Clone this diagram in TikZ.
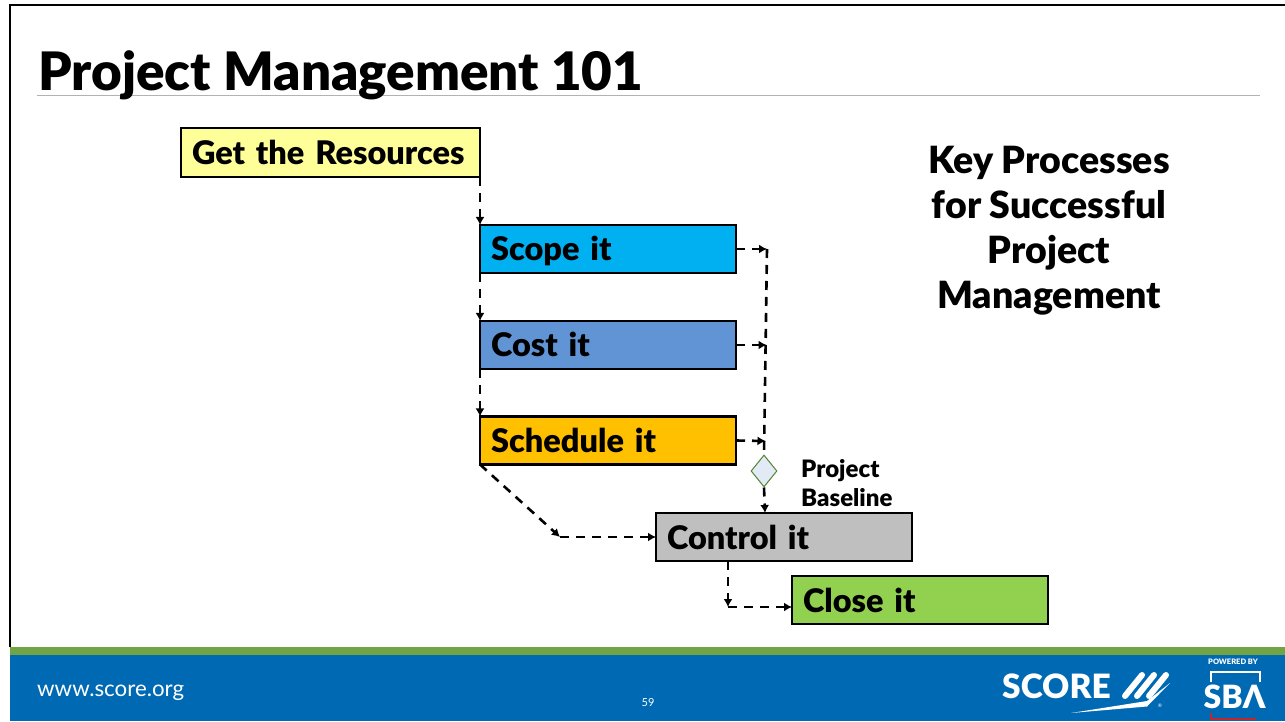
\documentclass[tikz,border=0pt]{standalone}
\usepackage{fontspec}
\setmainfont{Lato}[BoldFont={Lato Black}]
\usetikzlibrary{positioning,arrows.meta,shapes.geometric}

\tikzset{
    taskbox/.style={draw=black, line width=2.2pt, outer sep=0pt, minimum height=48pt, minimum width=256pt, text width=234pt,
        text height=28pt, text depth=4pt, inner xsep=11pt, inner ysep=0pt, align=left, text=black,
        font=\fontsize{32.5}{37}\selectfont\bfseries},
    flowline/.style={line width=2.6pt, dash pattern=on 9pt off 7pt, -{Latex[length=8pt,width=9pt]}},
    plainline/.style={line width=2.6pt, dash pattern=on 9pt off 7pt},
}
\definecolor{resourcefill}{HTML}{FFFF99}
\definecolor{scopefill}{HTML}{00B0F0}
\definecolor{costfill}{HTML}{6094D4}
\definecolor{schedulefill}{HTML}{FFC000}
\definecolor{controlfill}{HTML}{BFBFBF}
\definecolor{closefill}{HTML}{92D050}
\definecolor{footerblue}{HTML}{0069B4}
\definecolor{footergreen}{HTML}{70A444}
\definecolor{diamondline}{HTML}{548235}
\definecolor{diamondfill}{HTML}{E2EBF5}
\definecolor{sbared}{HTML}{C0272D}

\begin{document}
\begin{tikzpicture}[x=1pt,y=1pt]
        \newcommand{\slidewidth}{1285}
        \newcommand{\slideheight}{721}
        \useasboundingbox (0,0) rectangle (\slidewidth, \slideheight);
        \fill[white] (0,0) rectangle (\slidewidth, \slideheight);
        % slide frame
        \draw[line width=2.5pt] (10,74) -- (10,716) -- (\slidewidth,716);
        \draw[line width=1pt, black!30] (37,625.5) -- (1260,625.5);
        \node[anchor=base west, inner sep=0pt, font=\fontsize{53}{60}\selectfont\bfseries] (title) at (38,630.5) {Project Management 101};

        % footer
        \fill[footerblue] (10,0) rectangle (\slidewidth,66);
        \fill[footergreen] (10,66) rectangle (\slidewidth,74);
        \node[anchor=base west, inner sep=0pt, text=white, font=\fontsize{22.3}{25}\selectfont] (website) at (37,25) {www.score.org};
        \node[inner sep=0pt, text=white, font=\fontsize{11}{13}\selectfont] (pagenum) at (648,18) {59};

        % tasks
        \node[taskbox, fill=resourcefill, minimum width=299pt, text width=277pt, minimum height=49pt] (resources) at (330.5,568.5) {Get the Resources};
        \node[taskbox, fill=scopefill] (scope) at (608,472) {Scope it};
        \node[taskbox, fill=costfill] (cost) at (608,376) {Cost it};
        \node[taskbox, fill=schedulefill] (schedule) at (608,280.5) {Schedule it};
        \node[taskbox, fill=controlfill] (control) at (784,184) {Control it};
        \node[taskbox, fill=closefill] (closeit) at (920,121) {Close it};

        \node[diamond, draw=diamondline, fill=diamondfill, line width=1pt, minimum width=26pt, minimum height=32pt, inner sep=0pt, aspect=0.8] (baseline) at (764,250) {};
        \node[anchor=west, align=left, inner sep=0pt, font=\fontsize{24}{29}\selectfont\bfseries] (baselinetext) at (801,238) {Project\\Baseline};

        \node[align=center, inner sep=0pt, font=\fontsize{37.5}{45}\selectfont\bfseries] (keytext) at (1049,490.5) {Key Processes\\for Successful\\ Project\\Management};

        % bends of the dashed lines
        \coordinate (scopebend) at (767,472);
        \coordinate (costbend) at (766.5,376);
        \coordinate (schedbend) at (765.5,280);
        \coordinate (controlbend) at (560,184);
        \coordinate (closebend) at (728,114);
        \coordinate (controlout) at (728,160);
        \coordinate (controlin) at (765,208);
        \coordinate (closein) at (792,114);

        % dashed links
        \draw[flowline] (resources.south east) -- (scope.north west);
        \draw[flowline] (scope.south west) -- (cost.north west);
        \draw[flowline] (cost.south west) -- (schedule.north west);
        \draw[flowline] (scope.east) -- (scopebend);
        \draw[flowline] (cost.east) -- (costbend);
        \draw[flowline] (schedule.east) -- (schedbend);
        \draw[plainline] (scopebend) -- (baseline.north);
        \draw[flowline] (baseline.south) -- (controlin);
        \draw[flowline] (schedule.south west) -- (controlbend);
        \draw[flowline] (controlbend) -- (control.west);
        \draw[flowline] (controlout) -- (closebend);
        \draw[flowline] (closebend) -- (closein);

        % logos
        \node[anchor=base west, inner sep=0pt, text=white, font=\fontsize{33.5}{36}\selectfont\bfseries] (scorelogo) at (1002,23) {SCORE};
        \foreach \i in {0,1,2} {
            \draw[white, line width=6pt, line cap=round] ({1125+\i*12},25) -- ({1142+\i*12},46);
        }
        \fill[white] (1071,8) -- (1147,20) -- (1170,38) -- (1147,14.5) -- cycle;
        \node[inner sep=0pt, text=white, font=\fontsize{5}{6}\selectfont] (regmark) at (1160,15) {®};
        \node[inner sep=0pt, text=white, font=\fontsize{7.5}{9}\selectfont\bfseries] (poweredby) at (1233,59) {POWERED BY};
        \node[anchor=base, inner sep=0pt, text=white, font=\fontsize{32}{36}\selectfont\bfseries] (sbalogo) at (1234.5,13) {SBΛ};
        \draw[white, line width=2pt] (1211,39) -- (1211,49) -- (1260,49) -- (1260,39);
        \draw[sbared, line width=2.5pt] (1211,8) -- (1211,2) -- (1256,2);
    \end{tikzpicture}
\end{document}
